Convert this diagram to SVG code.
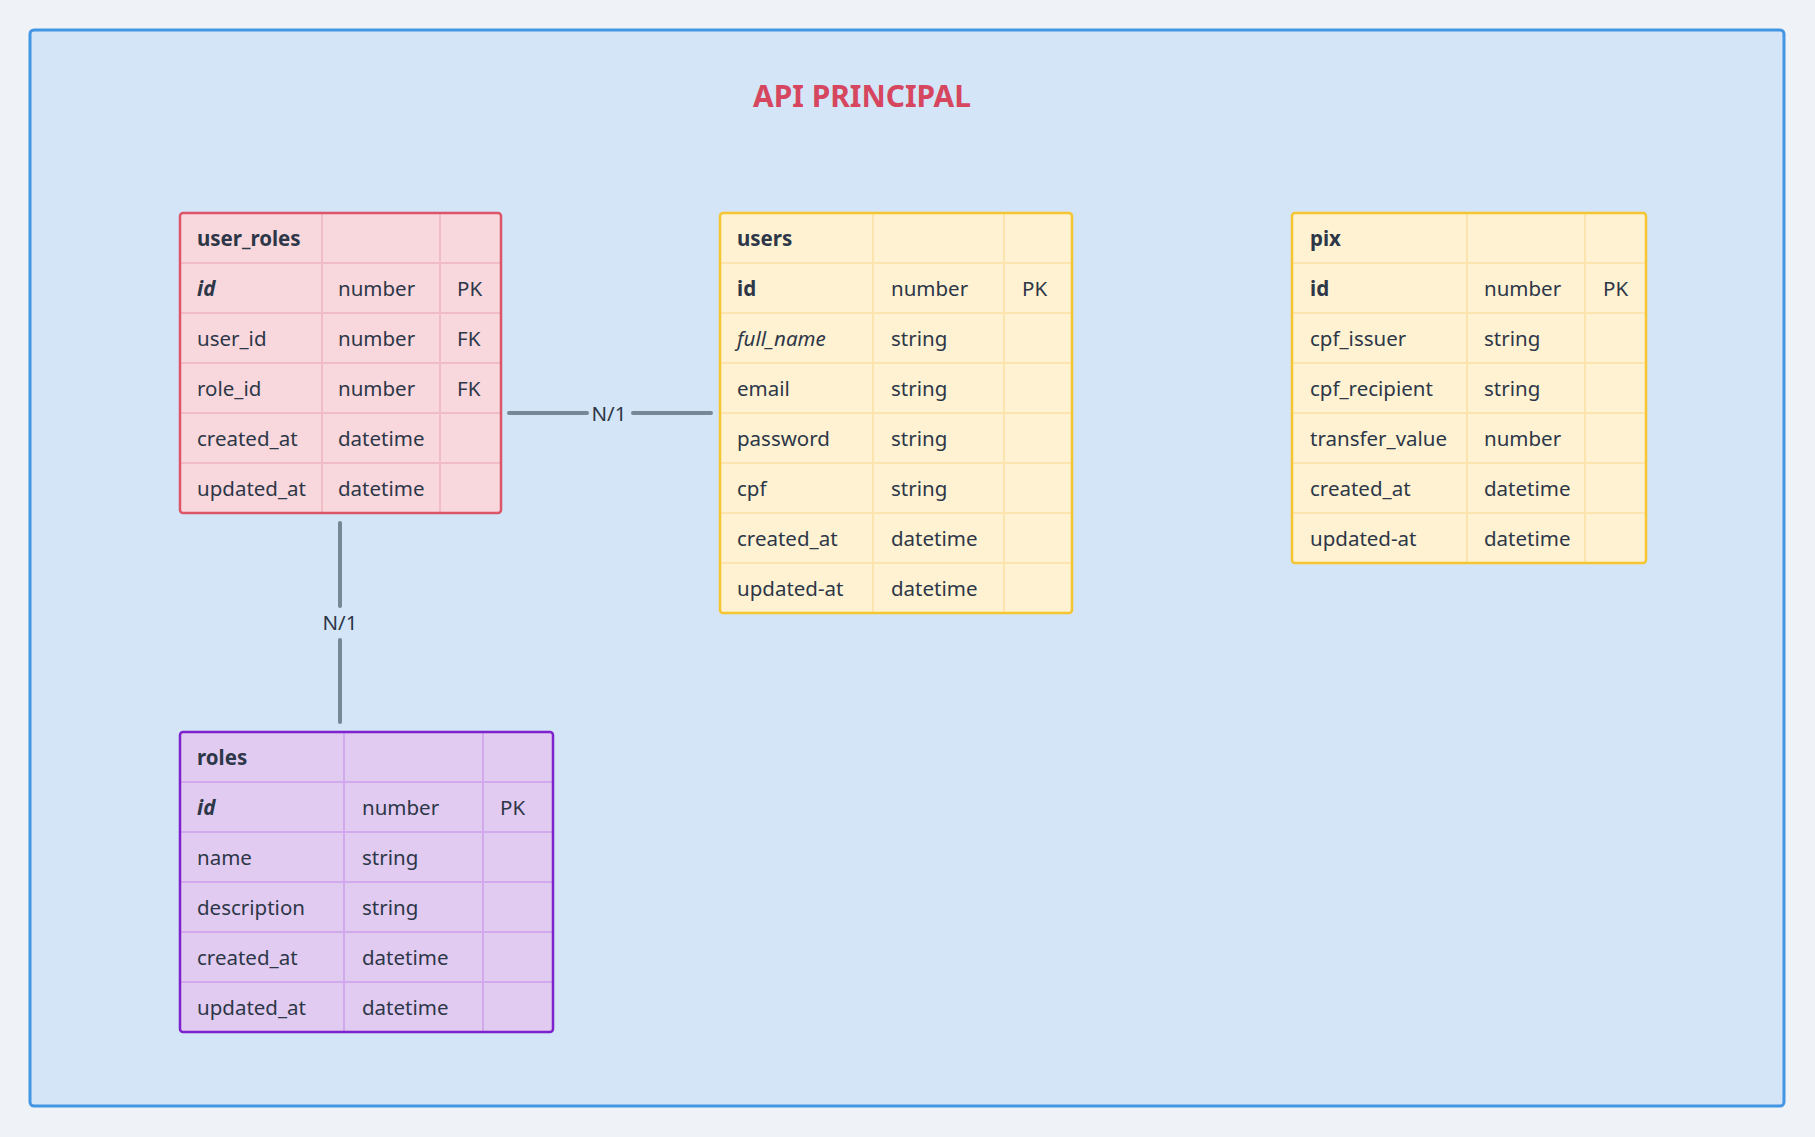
<svg xmlns="http://www.w3.org/2000/svg" width="1815" height="1137" viewBox="0 0 1815 1137">
<style>
text{font-family:"Noto Sans","Open Sans","Liberation Sans",sans-serif;font-size:20.5px;fill:#2d3748}
.b{font-weight:700}
.i{font-style:italic}
.bi{font-weight:700;font-style:italic}
.title{font-weight:700;font-size:31px;fill:#d6465f}
.lbl{text-anchor:middle}
.conn{stroke:#778796;stroke-width:4;stroke-linecap:round;fill:none}
.pinkfill{fill:#f8d7dd}
.pinkline{stroke:#f0bcc6;stroke-width:2}
.pinkborder{fill:none;stroke:#dc5569;stroke-width:2.5}
.yfill{fill:#fef2d2}
.yline{stroke:#fbe4ae;stroke-width:2}
.yborder{fill:none;stroke:#f5c631;stroke-width:2.5}
.pfill{fill:#e1cbf1}
.pline{stroke:#d2a9ec;stroke-width:2}
.pborder{fill:none;stroke:#7e22ce;stroke-width:2.5}
</style>
<rect x="0" y="0" width="1815" height="1137" fill="#eff3f7"/>
<g id="container">
<rect x="30" y="30" width="1754" height="1076" rx="4" fill="#d3e5f6" stroke="#4396e4" stroke-width="3"/>
<text class="title" x="862" y="107" text-anchor="middle" textLength="218" lengthAdjust="spacingAndGlyphs">API PRINCIPAL</text>
</g>

<g id="user_roles">
<rect class="pinkfill" x="180" y="213" width="321" height="300" rx="3"/>
<g class="pinkline">
<line x1="322" y1="213" x2="322" y2="513"/>
<line x1="440" y1="213" x2="440" y2="513"/>
<line x1="180" y1="263" x2="501" y2="263"/>
<line x1="180" y1="313" x2="501" y2="313"/>
<line x1="180" y1="363" x2="501" y2="363"/>
<line x1="180" y1="413" x2="501" y2="413"/>
<line x1="180" y1="463" x2="501" y2="463"/>
</g>
<rect class="pinkborder" x="180" y="213" width="321" height="300" rx="3"/>
<text class="b" x="197" y="246">user_roles</text>
<text class="bi" x="197" y="296">id</text><text x="338" y="296">number</text><text x="457" y="296">PK</text>
<text x="197" y="346">user_id</text><text x="338" y="346">number</text><text x="457" y="346">FK</text>
<text x="197" y="396">role_id</text><text x="338" y="396">number</text><text x="457" y="396">FK</text>
<text x="197" y="446">created_at</text><text x="338" y="446">datetime</text>
<text x="197" y="496">updated_at</text><text x="338" y="496">datetime</text>
</g>

<g id="users">
<rect class="yfill" x="720" y="213" width="352" height="400" rx="3"/>
<g class="yline">
<line x1="873" y1="213" x2="873" y2="613"/>
<line x1="1004" y1="213" x2="1004" y2="613"/>
<line x1="720" y1="263" x2="1072" y2="263"/>
<line x1="720" y1="313" x2="1072" y2="313"/>
<line x1="720" y1="363" x2="1072" y2="363"/>
<line x1="720" y1="413" x2="1072" y2="413"/>
<line x1="720" y1="463" x2="1072" y2="463"/>
<line x1="720" y1="513" x2="1072" y2="513"/>
<line x1="720" y1="563" x2="1072" y2="563"/>
</g>
<rect class="yborder" x="720" y="213" width="352" height="400" rx="3"/>
<text class="b" x="737" y="246">users</text>
<text class="b" x="737" y="296">id</text><text x="891" y="296">number</text><text x="1022" y="296">PK</text>
<text class="i" x="737" y="346">full_name</text><text x="891" y="346">string</text>
<text x="737" y="396">email</text><text x="891" y="396">string</text>
<text x="737" y="446">password</text><text x="891" y="446">string</text>
<text x="737" y="496">cpf</text><text x="891" y="496">string</text>
<text x="737" y="546">created_at</text><text x="891" y="546">datetime</text>
<text x="737" y="596">updated-at</text><text x="891" y="596">datetime</text>
</g>

<g id="pix">
<rect class="yfill" x="1292" y="213" width="354" height="350" rx="3"/>
<g class="yline">
<line x1="1467" y1="213" x2="1467" y2="563"/>
<line x1="1585" y1="213" x2="1585" y2="563"/>
<line x1="1292" y1="263" x2="1646" y2="263"/>
<line x1="1292" y1="313" x2="1646" y2="313"/>
<line x1="1292" y1="363" x2="1646" y2="363"/>
<line x1="1292" y1="413" x2="1646" y2="413"/>
<line x1="1292" y1="463" x2="1646" y2="463"/>
<line x1="1292" y1="513" x2="1646" y2="513"/>
</g>
<rect class="yborder" x="1292" y="213" width="354" height="350" rx="3"/>
<text class="b" x="1310" y="246">pix</text>
<text class="b" x="1310" y="296">id</text><text x="1484" y="296">number</text><text x="1603" y="296">PK</text>
<text x="1310" y="346">cpf_issuer</text><text x="1484" y="346">string</text>
<text x="1310" y="396">cpf_recipient</text><text x="1484" y="396">string</text>
<text x="1310" y="446">transfer_value</text><text x="1484" y="446">number</text>
<text x="1310" y="496">created_at</text><text x="1484" y="496">datetime</text>
<text x="1310" y="546">updated-at</text><text x="1484" y="546">datetime</text>
</g>

<g id="roles">
<rect class="pfill" x="180" y="732" width="373" height="300" rx="3"/>
<g class="pline">
<line x1="344" y1="732" x2="344" y2="1032"/>
<line x1="483" y1="732" x2="483" y2="1032"/>
<line x1="180" y1="782" x2="553" y2="782"/>
<line x1="180" y1="832" x2="553" y2="832"/>
<line x1="180" y1="882" x2="553" y2="882"/>
<line x1="180" y1="932" x2="553" y2="932"/>
<line x1="180" y1="982" x2="553" y2="982"/>
</g>
<rect class="pborder" x="180" y="732" width="373" height="300" rx="3"/>
<text class="b" x="197" y="765">roles</text>
<text class="bi" x="197" y="815">id</text><text x="362" y="815">number</text><text x="500" y="815">PK</text>
<text x="197" y="865">name</text><text x="362" y="865">string</text>
<text x="197" y="915">description</text><text x="362" y="915">string</text>
<text x="197" y="965">created_at</text><text x="362" y="965">datetime</text>
<text x="197" y="1015">updated_at</text><text x="362" y="1015">datetime</text>
</g>

<g id="connectors">
<line class="conn" x1="509" y1="413" x2="587" y2="413"/>
<line class="conn" x1="633" y1="413" x2="711" y2="413"/>
<text class="lbl" x="609" y="421">N/1</text>
<line class="conn" x1="340" y1="523" x2="340" y2="606"/>
<line class="conn" x1="340" y1="640" x2="340" y2="722"/>
<text class="lbl" x="340" y="630">N/1</text>
</g>
</svg>
